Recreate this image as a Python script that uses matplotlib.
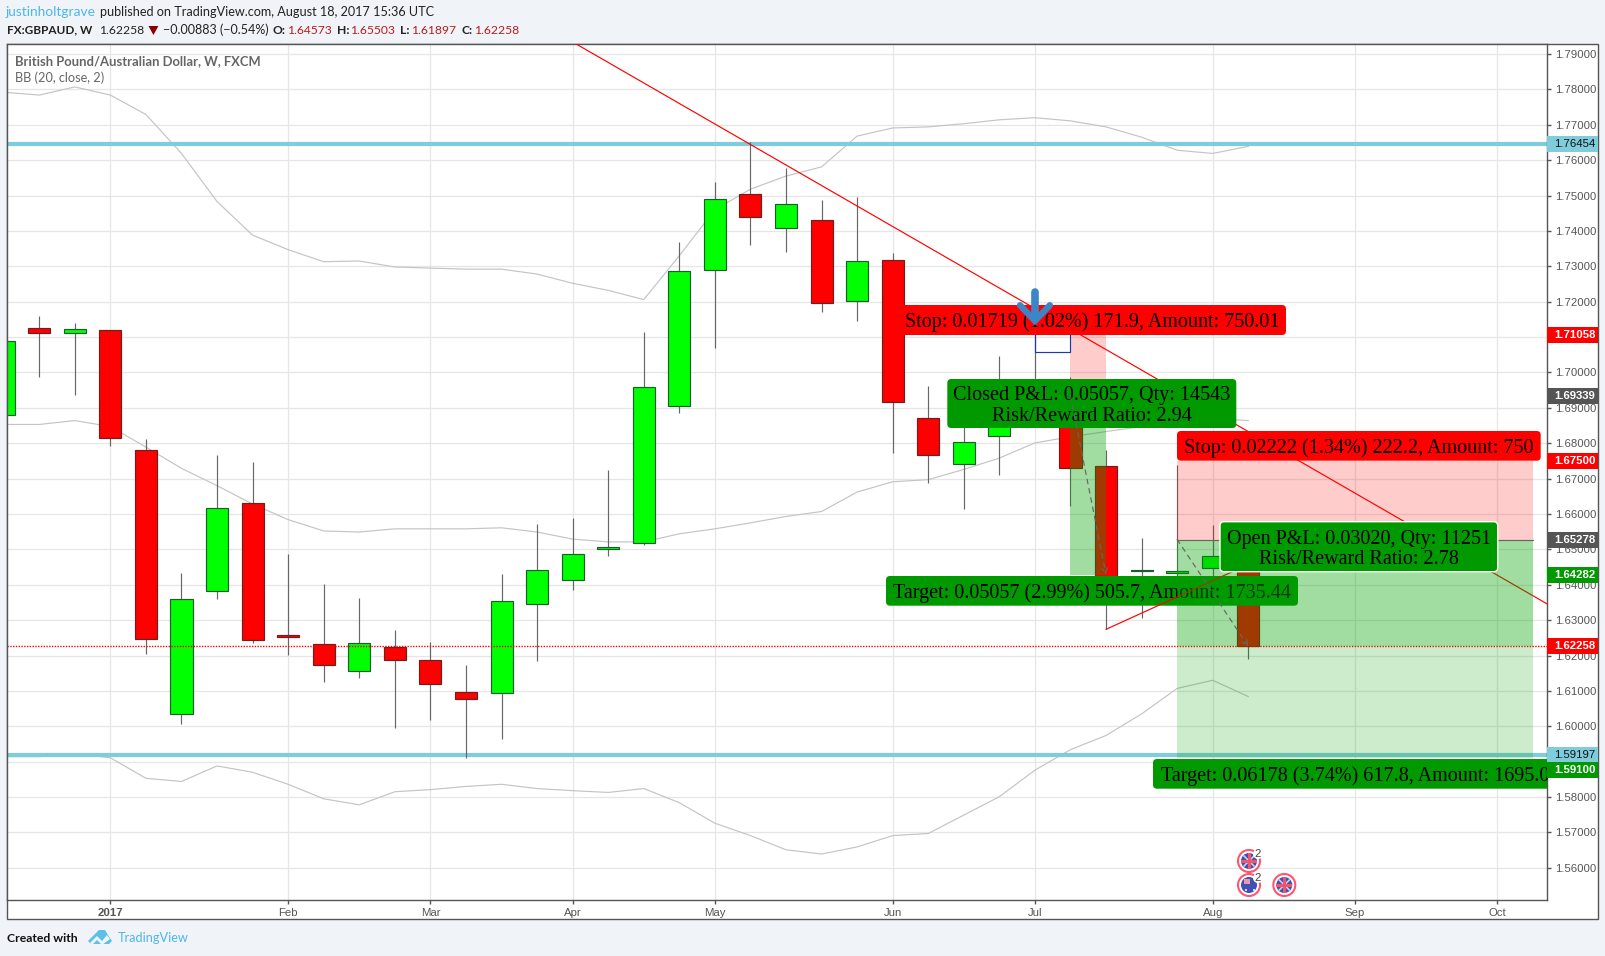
import matplotlib
matplotlib.use("Agg")
import matplotlib.pyplot as plt
from matplotlib.patches import Circle, FancyBboxPatch, Polygon, Rectangle
from matplotlib.transforms import Affine2D, blended_transform_factory

# --- weekly candles, GBPAUD ---
opens = [1.6881, 1.7127, 1.7112, 1.7121, 1.6782, 1.6036, 1.6383, 1.6632, 1.6259, 1.6233, 1.6155, 1.6224,
         1.6187, 1.6097, 1.6094, 1.6346, 1.6412, 1.6500, 1.6519, 1.6904, 1.7289, 1.7503, 1.7407, 1.7430,
         1.7202, 1.7318, 1.6872, 1.6742, 1.6821, 1.6870, 1.6870, 1.6735, 1.6438, 1.6432, 1.6448, 1.64573]
highs = [1.7089, 1.7159, 1.7141, 1.7121, 1.6811, 1.6432, 1.6768, 1.6748, 1.6488, 1.6401, 1.6363, 1.6273,
         1.6239, 1.6172, 1.6430, 1.6571, 1.6589, 1.6725, 1.7115, 1.7370, 1.7538, 1.7650, 1.7578, 1.7488,
         1.7497, 1.7338, 1.6962, 1.6900, 1.7046, 1.7155, 1.6988, 1.6781, 1.6532, 1.6738, 1.6569, 1.65503]
lows = [1.6881, 1.6988, 1.6936, 1.6791, 1.6204, 1.6007, 1.6360, 1.6236, 1.6201, 1.6126, 1.6137, 1.5996,
        1.6019, 1.5909, 1.5964, 1.6184, 1.6386, 1.6482, 1.6511, 1.6884, 1.7069, 1.7361, 1.7341, 1.7170,
        1.7144, 1.6771, 1.6687, 1.6615, 1.6711, 1.6860, 1.6623, 1.6275, 1.6307, 1.6420, 1.6410, 1.61897]
closes = [1.7089, 1.7112, 1.7124, 1.6814, 1.6247, 1.6360, 1.6618, 1.6244, 1.6252, 1.6172, 1.6236, 1.6187,
          1.6120, 1.6077, 1.6354, 1.6441, 1.6488, 1.6508, 1.6959, 1.7286, 1.7491, 1.7439, 1.7477, 1.7196,
          1.7315, 1.6916, 1.6768, 1.6803, 1.6850, 1.6900, 1.6731, 1.6418, 1.6442, 1.6438, 1.6481, 1.62258]

# --- bollinger bands ---
bb_upper = [1.7792, 1.7784, 1.7807, 1.7784, 1.7729, 1.7619, 1.7483, 1.7388, 1.7347, 1.7313, 1.7315, 1.7298,
            1.7295, 1.7292, 1.7292, 1.7278, 1.7252, 1.7232, 1.7206, 1.7330, 1.7460, 1.7518, 1.7555, 1.7581,
            1.7668, 1.7691, 1.7694, 1.7703, 1.7714, 1.7720, 1.7711, 1.7694, 1.7665, 1.7628, 1.7619, 1.7639]
bb_basis = [1.6853, 1.6853, 1.6864, 1.6847, 1.6789, 1.6729, 1.6680, 1.6628, 1.6584, 1.6552, 1.6549, 1.6558,
            1.6558, 1.6558, 1.6561, 1.6549, 1.6529, 1.6521, 1.6521, 1.6544, 1.6558, 1.6575, 1.6593, 1.6607,
            1.6662, 1.6691, 1.6697, 1.6726, 1.6758, 1.6801, 1.6818, 1.6833, 1.6847, 1.6862, 1.6870, 1.6864]
bb_lower = [1.5914, 1.5914, 1.5922, 1.5911, 1.5853, 1.5844, 1.5888, 1.5870, 1.5836, 1.5795, 1.5778, 1.5815,
            1.5821, 1.5830, 1.5836, 1.5824, 1.5818, 1.5813, 1.5824, 1.5784, 1.5726, 1.5691, 1.5651, 1.5639,
            1.5659, 1.5691, 1.5697, 1.5749, 1.5801, 1.5876, 1.5934, 1.5974, 1.6035, 1.6107, 1.6130, 1.6084]

# --- axes ---
date_ticks = [3, 8, 12, 16, 20, 25, 29, 34, 38, 42]
date_labels = ['2017', 'Feb', 'Mar', 'Apr', 'May', 'Jun', 'Jul', 'Aug', 'Sep', 'Oct']
price_ticks = [1.56, 1.57, 1.58, 1.59, 1.60, 1.61, 1.62, 1.63, 1.64, 1.65, 1.66, 1.67,
               1.68, 1.69, 1.70, 1.71, 1.72, 1.73, 1.74, 1.75, 1.76, 1.77, 1.78, 1.79]

# --- drawings ---
resistance_line = ([16.07, 43.4], [1.7930, 1.6346])
support_line = ([31, 36.17], [1.6274, 1.6511])
hlines = [1.76454, 1.59197]
last_price = 1.62258

short_x = (30, 31)
short_entry, short_stop, short_target = 1.69339, 1.71058, 1.64282
long_x = (33, 43)
long_entry, long_stop, long_target = 1.65278, 1.67500, 1.59100

# price scale tags: value, position, background, text colour
tag_values = [1.76454, 1.71058, 1.69339, 1.67500, 1.65278, 1.64282, 1.62258, 1.59197, 1.59100]
tag_places = [1.76454, 1.71058, 1.69339, 1.67500, 1.65278, 1.64282, 1.62258, 1.59197, 1.58760]
tag_colors = ['#7fccdc', '#ff0000', '#555555', '#ff0000', '#555555', '#009900', '#ff0000', '#7fccdc', '#009900']
tag_texts = ['#111111', 'white', 'white', 'white', 'white', 'white', 'white', '#111111', 'white']

W, H = 1605, 956
BG = '#f0f3f7'
SERIF = 'Liberation Serif'
SANS = 'Liberation Sans'
HEAD = 'Lato'
BLUE_TXT = '#4db8e8'
UP, DOWN = '#00ff00', '#ff0000'
UP_EDGE, DOWN_EDGE = '#1c5c2e', '#6e1f1f'
LEFT, RIGHT, TOP, BOTTOM = 6.5, 1547, 43.5, 900

plt.rcParams['font.family'] = SANS
fig = plt.figure(figsize=(W / 100, H / 100), dpi=100, facecolor=BG)
px = Affine2D().scale(1, -1).translate(0, H)  # pixel coordinates, y down

fig.add_artist(Rectangle((LEFT, TOP), 1598 - LEFT, 919 - TOP, transform=px, fc='white', ec='#555555', lw=1, zorder=-1))

ax = fig.add_axes([LEFT / W, 1 - BOTTOM / H, (RIGHT - LEFT) / W, (BOTTOM - TOP) / H])
ax.set_xlim(0.079, 43.4)
ax.set_ylim(1.5509, 1.79297)
ax.set_axisbelow(True)
ax.grid(True, color='#e6e6e6', lw=0.9)
for s in ax.spines.values():
    s.set_color('#555555')
    s.set_linewidth(1)
ax.yaxis.tick_right()
ax.set_yticks(price_ticks)
ax.set_yticklabels([f'{p:.5f}' for p in price_ticks])
ax.set_xticks(date_ticks)
ax.set_xticklabels(date_labels)
ax.tick_params(axis='both', colors='#555555', labelsize=8.2, length=3, width=1)
ax.tick_params(axis='y', pad=2.5)
ax.tick_params(axis='x', pad=3)
ax.get_xticklabels()[0].set_fontweight('bold')

weeks = list(range(len(opens)))

# bands and horizontal levels
for band in (bb_upper, bb_basis, bb_lower):
    ax.plot(weeks, band, color='#c4c4c4', lw=0.85, zorder=1)
for level in hlines:
    ax.axhline(level, color='#7fccdc', lw=3, zorder=1.5)

# candles
for i in weeks:
    rising = closes[i] >= opens[i]
    ax.vlines(i, lows[i], highs[i], color='#666666', lw=0.85, zorder=2)
    ax.bar(i, abs(closes[i] - opens[i]), bottom=min(opens[i], closes[i]), width=0.62,
           color=UP if rising else DOWN, edgecolor=UP_EDGE if rising else DOWN_EDGE, lw=0.85, zorder=2.1)

ax.axhline(last_price, color='#ff0000', lw=1, ls=(0, (1, 1)), zorder=2.5)

# closed short position
ax.fill_between(short_x, short_entry, short_stop, color='#ff0000', alpha=0.2, lw=0, zorder=3)
ax.fill_between(short_x, short_target, short_entry, color='#00a000', alpha=0.37, lw=0, zorder=3)
ax.add_patch(Rectangle((29, 1.7058), 1, 0.0062, fc='none', ec='#1a3cab', lw=0.85, zorder=3))
ax.plot(*resistance_line, color='#ff0000', lw=0.85, zorder=3.5)


def label(x, y, w, h, s, z, white_edge=False, color='#009900'):
    box = FancyBboxPatch((x, y), w, h, boxstyle='round,pad=0,rounding_size=4', transform=px, fc=color,
                         ec='white' if white_edge else color, lw=1 if white_edge else 0, zorder=z)
    ax.add_patch(box)
    box.set_clip_path(ax.patch)
    t = ax.text(x + w / 2, y + h / 2 + 2.5, s, transform=px, family=SERIF, fontsize=14.5, color='black', ha='center',
                va='center', linespacing=1.08, zorder=z + 0.01)
    t.set_clip_path(ax.patch)


label(898, 305, 388, 30, 'Stop: 0.01719 (1.02%) 171.9, Amount: 750.01', 4, color='#ff0000')
label(947.3, 379, 289, 49, 'Closed P&L: 0.05057, Qty: 14543\nRisk/Reward Ratio: 2.94', 4)
label(886, 576, 412, 29.7, 'Target: 0.05057 (2.99%) 505.7, Amount: 1735.44', 4)

ax.plot(*support_line, color='#ff0000', lw=0.85, zorder=4.5)
ax.annotate('', xy=(short_x[1], short_target), xytext=(short_x[0], short_entry), zorder=4.6,
            arrowprops=dict(arrowstyle='->', color='#666666', lw=0.85, ls=(0, (4, 4)), shrinkA=0, shrinkB=0))

# open long position
ax.fill_between(long_x, long_entry, long_stop, color='#ff0000', alpha=0.2, lw=0, zorder=5)
ax.fill_between(long_x, last_price, long_entry, color='#00a000', alpha=0.37, lw=0, zorder=5)
ax.fill_between(long_x, long_target, last_price, color='#00a000', alpha=0.2, lw=0, zorder=5)
ax.plot(long_x, [long_entry, long_entry], color='#666666', lw=0.85, zorder=5.2)
ax.annotate('', xy=(35, last_price), xytext=(long_x[0], long_entry), zorder=5.5,
            arrowprops=dict(arrowstyle='->', color='#666666', lw=0.85, ls=(0, (4, 4)), shrinkA=0, shrinkB=0))

label(1177, 431, 363.7, 29.7, 'Stop: 0.02222 (1.34%) 222.2, Amount: 750', 6, color='#ff0000')
label(1220, 521.7, 277.7, 50, 'Open P&L: 0.03020, Qty: 11251\nRisk/Reward Ratio: 2.78', 6, white_edge=True)
label(1153, 759, 404, 29.7, 'Target: 0.06178 (3.74%) 617.8, Amount: 1695.0', 6)

# blue arrow marker
ax.plot([29, 29], [1.7226, 1.7150], color='#3d85c6', lw=5.5, solid_capstyle='round', zorder=7)
ax.plot([28.58, 29, 29.42], [1.7190, 1.7146, 1.7190], color='#3d85c6', lw=4.6,
        solid_capstyle='round', solid_joinstyle='miter', zorder=7)

# price scale tags
tr = blended_transform_factory(ax.transAxes, ax.transData)
tag_w = (1598 - RIGHT) / (RIGHT - LEFT)
tag_h = 16 / 3538
for val, place, bg, fg in zip(tag_values, tag_places, tag_colors, tag_texts):
    ax.add_patch(Rectangle((1, place - tag_h / 2), tag_w, tag_h, transform=tr, fc=bg, ec='none',
                           clip_on=False, zorder=10))
    ax.text(1 + 7 / (RIGHT - LEFT), place, f'{val:.5f}', transform=tr, color=fg, fontsize=8.2,
            fontweight='bold' if fg == 'white' else 'normal', va='center', ha='left', clip_on=False, zorder=11)


# news icons
def flag(x, y, count=None, aus=False):
    ax.add_patch(Circle((x, y), 11, transform=px, fc='white', ec='#ff5570', lw=1.5, clip_on=False, zorder=8))
    ax.add_patch(Circle((x, y), 8, transform=px, fc='#3f51b5', ec='none', clip_on=False, zorder=8))
    if aus:
        ax.add_patch(Rectangle((x - 5, y - 6), 6, 5, transform=px, fc='#e89aa8', ec='none', clip_on=False, zorder=8.1))
        ax.add_patch(Circle((x + 5, y + 5), 1, transform=px, fc='white', ec='none', clip_on=False, zorder=8.1))
        ax.add_patch(Circle((x - 3, y + 5), 1, transform=px, fc='white', ec='none', clip_on=False, zorder=8.1))
    else:
        ax.plot([x - 5, x + 5], [y - 5, y + 5], transform=px, color='#c9cfe8', lw=1.2, clip_on=False, zorder=8.05)
        ax.plot([x - 5, x + 5], [y + 5, y - 5], transform=px, color='#c9cfe8', lw=1.2, clip_on=False, zorder=8.05)
        ax.add_patch(Rectangle((x - 8, y - 1.5), 16, 3, transform=px, fc='#f0556a', ec='none', clip_on=False, zorder=8.1))
        ax.add_patch(Rectangle((x - 1.5, y - 8), 3, 16, transform=px, fc='#f0556a', ec='none', clip_on=False, zorder=8.1))
    if count:
        ax.add_patch(Circle((x + 9, y - 7), 5, transform=px, fc='white', ec='none', clip_on=False, zorder=8.2))
        ax.text(x + 9, y - 7, count, transform=px, fontsize=8.2, color='#444444', ha='center', va='center', zorder=8.3)


flag(1249, 861, '2')
flag(1249, 885, '2', aus=True)
flag(1284.3, 885)


# header, legend and footer
def head(x, y, s, color='#222222', weight='normal', size=9.1, family=HEAD):
    fig.text(x, y, s, transform=px, color=color, fontweight=weight, fontsize=size, family=family,
             va='center', ha='left')


head(5.4, 11.7, 'justinholtgrave', color=BLUE_TXT, size=9.9)
head(100.3, 11.7, 'published on TradingView.com, August 18, 2017 15:36 UTC')
head(7, 30, 'FX:GBPAUD, W', weight='bold', size=8.5)
head(99.5, 30, '1.62258', size=8.7)
fig.add_artist(Polygon([(148.5, 26), (158.4, 26), (153.4, 35)], transform=px, fc='#8b0000', ec='none'))
head(162.6, 30, '\u22120.00883 (\u22120.54%)', size=9)
for x_key, key, x_val, val in [(272.5, 'O:', 287, '1.64573'), (336.8, 'H:', 350.5, '1.65503'),
                               (400, 'L:', 411.4, '1.61897'), (461.5, 'C:', 473.8, '1.62258')]:
    head(x_key, 30, key, weight='bold', size=8.7)
    head(x_val, 30, val, color='#b71c1c', size=8.7)

head(15.3, 60.7, 'British Pound/Australian Dollar, W, FXCM', color='#666666', weight='bold', size=9.35)
head(15.3, 78, 'BB (20, close, 2)', color='#666666', size=9.2)

head(6.7, 938, 'Created with', weight='bold', color='#111111', size=8.8)
head(118, 938, 'TradingView', color=BLUE_TXT, size=9.2)
fig.add_artist(Polygon([(88, 941), (95, 934), (99, 930), (105, 930), (108, 935), (112, 941), (109, 944), (91, 944)],
                       transform=px, fc='#5cc0e8', ec='none'))
fig.add_artist(Polygon([(90, 943), (97, 936), (102, 941), (107, 935), (110, 939), (102, 945), (97, 940), (92, 945)],
                       transform=px, fc=BG, ec='none'))

fig.savefig('out.png', dpi=100, facecolor=BG)
